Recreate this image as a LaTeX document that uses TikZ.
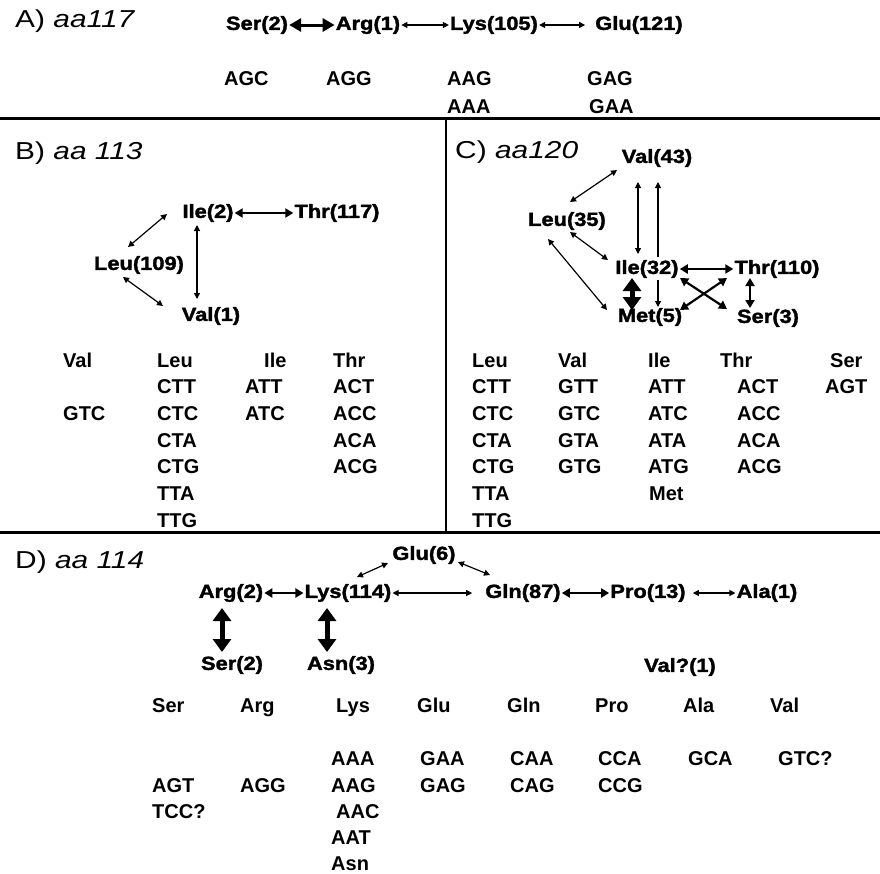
\documentclass[tikz,border=0pt]{standalone}
\usepackage{fontspec}
\setmainfont{Liberation Sans}
\newfontfamily\labfont{Liberation Sans}[FakeStretch=1.15,BoldFeatures={FakeBold=1.8}]
\newfontfamily\titfont{Liberation Sans}[FakeStretch=1.22]
\usetikzlibrary{arrows.meta}

\tikzset{
  aa/.style={font={\labfont\bfseries\fontsize{19}{21}\selectfont}, inner sep=1pt, text height=13.8pt, text depth=4pt},
  cod/.style={font={\bfseries\fontsize{20}{22}\selectfont}, anchor=west, inner sep=0pt, text height=14.3pt, text depth=0pt},
  ttl/.style={font={\titfont\fontsize{24.5}{27}\selectfont}, anchor=base west, inner sep=0pt},
  link/.style={{Triangle[length=6pt,width=6pt]}-{Triangle[length=6pt,width=6pt]}, line width=1.2pt},
  mlink/.style={{Triangle[length=8pt,width=9pt]}-{Triangle[length=8pt,width=9pt]}, line width=2.2pt},
  alink/.style={{Triangle[length=12pt,width=13pt]}-{Triangle[length=12pt,width=13pt]}, line width=3pt},
  blink/.style={{Triangle[length=13pt,width=18pt]}-{Triangle[length=13pt,width=18pt]}, line width=5pt},
  panel/.style={line width=2.5pt}
}

\begin{document}
\begin{tikzpicture}[x=1pt, y=-1pt]
    \useasboundingbox (0,0) rectangle (880,873);
    \fill[white] (0,0) rectangle (880,873);

    % frames
    \draw[panel] (0,118.5) -- (880,118.5);
    \draw[panel] (0,532.5) -- (880,532.5);
    \draw[panel] (446,118.5) -- (446,532.5);

    % A) aa117
    \node[ttl] (tA) at (15,27) {A) \textit{aa117}};
    \node[aa] (aSer) at (257,25) {Ser(2)};
    \node[aa] (aArg) at (368,25) {Arg(1)};
    \node[aa] (aLys) at (494,25) {Lys(105)};
    \node[aa] (aGlu) at (639,25) {Glu(121)};
    \draw[alink] (aSer) -- (aArg);
    \draw[link] (aArg) -- (aLys);
    \draw[link, shorten >=9pt] (aLys) -- (aGlu);

    \node[cod] (aAGC) at (224,78) {AGC};
    \node[cod] (aAGG) at (326,78) {AGG};
    \node[cod] (aAAG) at (447,78) {AAG};
    \node[cod] (aAAA) at (447,106) {AAA};
    \node[cod] (aGAG) at (587,78) {GAG};
    \node[cod] (aGAA) at (589,106) {GAA};

    % B) aa 113
    \node[ttl] (tB) at (15,159) {B) \textit{aa 113}};
    \node[aa] (bIle) at (208,213) {Ile(2)};
    \node[aa] (bThr) at (337,213) {Thr(117)};
    \node[aa] (bLeu) at (139,265) {Leu(109)};
    \node[aa] (bVal) at (211,316) {Val(1)};
    \draw[mlink] (bIle) -- (bThr);
    \draw[link] ([shift={(-11,-18)}]bLeu.center) -- ([shift={(-41,1)}]bIle.center);
    \draw[link] ([shift={(-11,12)}]bIle.center) -- ([shift={(-14,-17)}]bVal.center);
    \draw[link] ([shift={(-16,12)}]bLeu.center) -- ([shift={(-48,-10)}]bVal.center);

    \node[cod] (bValH) at (63,360) {Val};
    \node[cod] (bGTC) at (63,413.3) {GTC};
    \node[cod] (bLeuH) at (157,360) {Leu};
    \node[cod] (bCTT) at (157,386.7) {CTT};
    \node[cod] (bCTC) at (157,413.3) {CTC};
    \node[cod] (bCTA) at (157,440) {CTA};
    \node[cod] (bCTG) at (157,466.7) {CTG};
    \node[cod] (bTTA) at (157,493.3) {TTA};
    \node[cod] (bTTG) at (157,520) {TTG};
    \node[cod] (bIleH) at (264,360) {Ile};
    \node[cod] (bATT) at (245,386.7) {ATT};
    \node[cod] (bATC) at (245,413.3) {ATC};
    \node[cod] (bThrH) at (333,360) {Thr};
    \node[cod] (bACT) at (333,386.7) {ACT};
    \node[cod] (bACC) at (333,413.3) {ACC};
    \node[cod] (bACA) at (333,440) {ACA};
    \node[cod] (bACG) at (333,466.7) {ACG};

    % C) aa120
    \node[ttl] (tC) at (455,158) {C) \textit{aa120}};
    \node[aa] (cVal) at (657,158) {Val(43)};
    \node[aa] (cLeu) at (567,221) {Leu(35)};
    \node[aa] (cIle) at (647,269) {Ile(32)};
    \node[aa] (cThr) at (777,269) {Thr(110)};
    \node[aa] (cMet) at (650,317) {Met(5)};
    \node[aa] (cSer) at (768,318) {Ser(3)};
    \draw[link] ([shift={(3,-19)}]cLeu.center) -- ([shift={(-40,12)}]cVal.center);
    \draw[link] ([shift={(-19,24)}]cVal.center) -- ([shift={(-9,-15)}]cIle.center);
    \draw[-{Triangle[length=6pt,width=6pt]}, line width=1.2pt] ([shift={(11,-12)}]cIle.center) -- ([shift={(1,24)}]cVal.center);
    \draw[-{Triangle[length=6pt,width=6pt]}, line width=1.2pt] ([shift={(11,11)}]cIle.center) -- ([shift={(8,-10)}]cMet.center);
    \draw[link] ([shift={(3,11)}]cLeu.center) -- ([shift={(-39,-9)}]cIle.center);
    \draw[link] ([shift={(-19,18)}]cLeu.center) -- ([shift={(-43,-7)}]cMet.center);
    \draw[mlink] (cIle) -- (cThr);
    \draw[blink] ([shift={(-15,9)}]cIle.center) -- ([shift={(-18,-7)}]cMet.center);
    \draw[mlink] ([shift={(33,9)}]cIle.center) -- ([shift={(-41,-9)}]cSer.center);
    \draw[mlink] ([shift={(-50,9)}]cThr.center) -- ([shift={(30,-7)}]cMet.center);
    \draw[mlink] ([shift={(-27,9)}]cThr.center) -- ([shift={(-18,-10)}]cSer.center);

    \node[cod] (cLeuH) at (472,360) {Leu};
    \node[cod] (cCTT) at (472,386.7) {CTT};
    \node[cod] (cCTC) at (472,413.3) {CTC};
    \node[cod] (cCTA) at (472,440) {CTA};
    \node[cod] (cCTG) at (472,466.7) {CTG};
    \node[cod] (cTTA) at (472,493.3) {TTA};
    \node[cod] (cTTG) at (472,520) {TTG};
    \node[cod] (cValH) at (558,360) {Val};
    \node[cod] (cGTT) at (558,386.7) {GTT};
    \node[cod] (cGTC) at (558,413.3) {GTC};
    \node[cod] (cGTA) at (558,440) {GTA};
    \node[cod] (cGTG) at (558,466.7) {GTG};
    \node[cod] (cIleH) at (648,360) {Ile};
    \node[cod] (cATT) at (648,386.7) {ATT};
    \node[cod] (cATC) at (648,413.3) {ATC};
    \node[cod] (cATA) at (648,440) {ATA};
    \node[cod] (cATG) at (648,466.7) {ATG};
    \node[cod] (cMetH) at (649,493.3) {Met};
    \node[cod] (cThrH) at (720,360) {Thr};
    \node[cod] (cACT) at (737,386.7) {ACT};
    \node[cod] (cACC) at (737,413.3) {ACC};
    \node[cod] (cACA) at (737,440) {ACA};
    \node[cod] (cACG) at (737,466.7) {ACG};
    \node[cod] (cSerH) at (830,360) {Ser};
    \node[cod] (cAGT) at (825,386.7) {AGT};

    % D) aa 114
    \node[ttl] (tD) at (15,568) {D) \textit{aa 114}};
    \node[aa] (dGlu) at (424,555) {Glu(6)};
    \node[aa] (dArg) at (231,593) {Arg(2)};
    \node[aa] (dLys) at (348,593) {Lys(114)};
    \node[aa] (dGln) at (523,593) {Gln(87)};
    \node[aa] (dPro) at (648,593) {Pro(13)};
    \node[aa] (dAla) at (767,593) {Ala(1)};
    \node[aa] (dSer) at (232,665) {Ser(2)};
    \node[aa] (dAsn) at (341,665) {Asn(3)};
    \node[aa] (dVal) at (680,667) {Val?(1)};
    \draw[mlink] (dArg) -- (dLys);
    \draw[link, shorten >=12pt] (dLys) -- (dGln);
    \draw[mlink] (dGln) -- (dPro);
    \draw[link, shorten <=6pt] (dPro) -- (dAla);
    \draw[link] ([shift={(9,-16)}]dLys.center) -- ([shift={(-36,8)}]dGlu.center);
    \draw[link] ([shift={(34,7)}]dGlu.center) -- ([shift={(-33,-18)}]dGln.center);
    \draw[blink] ([shift={(-9,15)}]dArg.center) -- ([shift={(-10,-13)}]dSer.center);
    \draw[blink] ([shift={(-21,15)}]dLys.center) -- ([shift={(-14,-13)}]dAsn.center);

    \node[cod] (dSerH) at (152,705) {Ser};
    \node[cod] (dAGT) at (152,785) {AGT};
    \node[cod] (dTCC) at (152,811) {TCC?};
    \node[cod] (dArgH) at (240,705) {Arg};
    \node[cod] (dAGG) at (240,785) {AGG};
    \node[cod] (dLysH) at (336,705) {Lys};
    \node[cod] (dAAA) at (331,758) {AAA};
    \node[cod] (dAAG) at (331,785) {AAG};
    \node[cod] (dAAC) at (336,811) {AAC};
    \node[cod] (dAAT) at (331,837) {AAT};
    \node[cod] (dAsnH) at (331,863) {Asn};
    \node[cod] (dGluH) at (417,705) {Glu};
    \node[cod] (dGAA) at (420,758) {GAA};
    \node[cod] (dGAG) at (420,785) {GAG};
    \node[cod] (dGlnH) at (507,705) {Gln};
    \node[cod] (dCAA) at (510,758) {CAA};
    \node[cod] (dCAG) at (510,785) {CAG};
    \node[cod] (dProH) at (595,705) {Pro};
    \node[cod] (dCCA) at (598,758) {CCA};
    \node[cod] (dCCG) at (598,785) {CCG};
    \node[cod] (dAlaH) at (683,705) {Ala};
    \node[cod] (dGCA) at (688,758) {GCA};
    \node[cod] (dValH) at (770,705) {Val};
    \node[cod] (dGTC) at (778,758) {GTC?};
\end{tikzpicture}
\end{document}
